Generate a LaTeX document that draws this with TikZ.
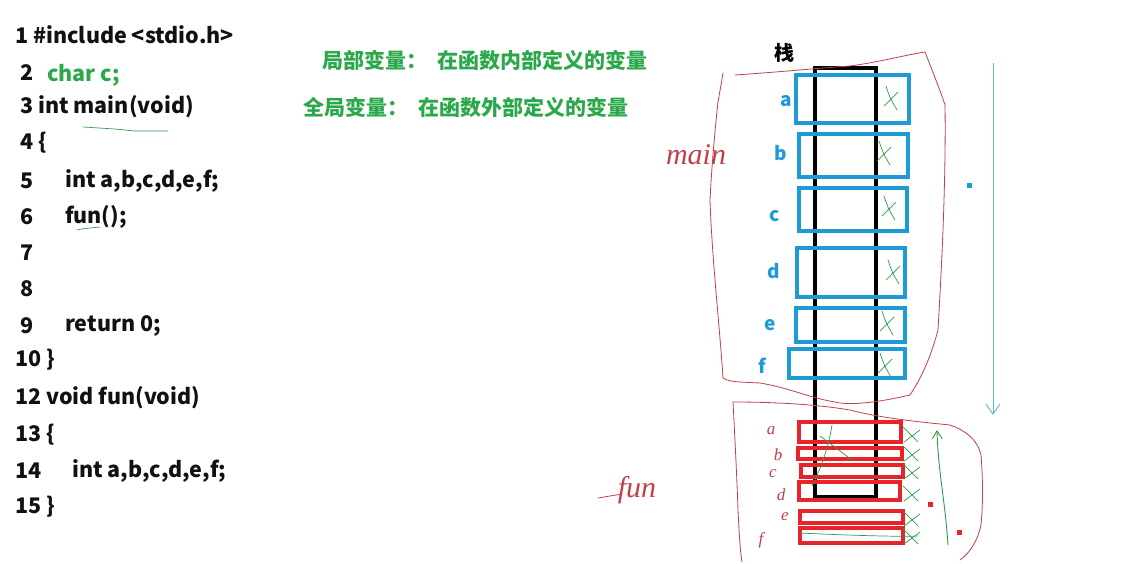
\documentclass[tikz,border=0pt]{standalone}
\usepackage{fontspec}
\setmainfont{Noto Sans CJK SC}
\newfontfamily\handfont{Liberation Serif}
\usetikzlibrary{arrows.meta}
\definecolor{codeblk}{HTML}{111111}
\definecolor{gtext}{HTML}{2BA84A}
\definecolor{sblue}{HTML}{1E9BD7}
\definecolor{sred}{HTML}{E8232A}
\definecolor{hred}{HTML}{C0404A}
\definecolor{hgreen}{HTML}{2E9E4E}
\definecolor{hblue}{HTML}{6BB7C9}
\tikzset{
  code/.style={anchor=west,inner sep=0pt,font=\fontsize{21.5}{21.5}\selectfont\bfseries,text=codeblk},
  note/.style={anchor=west,inner sep=0pt,font=\fontsize{21}{21}\selectfont\bfseries,text=gtext},
  bluebox/.style={draw=sblue,line width=3.4pt},
  redbox/.style={draw=sred,line width=3.6pt},
  lbl/.style={inner sep=0pt,font=\fontsize{19}{19}\selectfont\bfseries,text=sblue},
  hand/.style={draw=hred,line width=0.8pt,line join=round,line cap=round},
  hlbl/.style={inner sep=0pt,font=\fontsize{17}{17}\selectfont\handfont\itshape,text=hred},
  cross/.style={draw=hgreen,line width=0.7pt,line cap=round},
}
\begin{document}
\begin{tikzpicture}[x=1pt,y=-1pt]
\useasboundingbox[fill=white] (0,0) rectangle (1125,564);
% code
\node[code] (l1) at (15,35) {1 \#include <stdio.h>};
\node[code] (l2n) at (20,73) {2};
\node[code,text=gtext] (l2) at (47,75) {char c;};
\node[code] (l3) at (20,107) {3 int main(void)};
\node[code] (l4) at (20,143) {4 \{};
\node[code] (l5n) at (20,181) {5};
\node[code] (l5) at (65,181) {int a,b,c,d,e,f;};
\node[code] (l6n) at (20,217) {6};
\node[code] (l6) at (65,217) {fun();};
\node[code] (l7) at (20,253) {7};
\node[code] (l8) at (20,289) {8};
\node[code] (l9n) at (20,326) {9};
\node[code] (l9) at (65,326) {return 0;};
\node[code] (l10) at (15,360) {10 \}};
\node[code] (l12) at (15,398) {12 void fun(void)};
\node[code] (l13) at (15,435) {13 \{};
\node[code] (l14n) at (15,471) {14};
\node[code] (l14) at (72,471) {int a,b,c,d,e,f;};
\node[code] (l15) at (15,507) {15 \}};
% underlines
\draw[cross] (83,127) -- (115,129) -- (135,131) -- (168,131);
\draw[cross] (77,230) .. controls (85,228) and (92,228) .. (100,227);
% notes
\node[note] (n1) at (322,60) {局部变量：\hspace{0.5em}在函数内部定义的变量};
\node[note] (n2) at (303,107) {全局变量：\hspace{0.5em}在函数外部定义的变量};
% stack
\node[inner sep=0pt,font=\fontsize{20}{20}\selectfont\bfseries] (zhan) at (784,53) {栈};
\draw[line width=4pt,black] (815,497) -- (815,68) -- (876,68) -- (876,497) -- cycle;
% blue boxes
\draw[bluebox] (796,75) rectangle (909,123);
\draw[bluebox] (799,134) rectangle (908,177);
\draw[bluebox] (799,188) rectangle (907,231);
\draw[bluebox] (797,248) rectangle (905,297);
\draw[bluebox] (796,308) rectangle (905,342);
\draw[bluebox] (789,349) rectangle (905,378);
\node[lbl] (la) at (786,101) {a};
\node[lbl] (lb) at (781,153) {b};
\node[lbl] (lc) at (775,216) {c};
\node[lbl] (ld) at (774,271) {d};
\node[lbl] (le) at (770,325) {e};
\node[lbl] (lf) at (762,366) {f};
% red boxes
\draw[redbox] (799,422) rectangle (901,442);
\draw[redbox] (798,448) rectangle (902,459);
\draw[redbox] (801,465) rectangle (903,477);
\draw[redbox] (799,482) rectangle (900,500);
\draw[redbox] (800,511) rectangle (903,523);
\draw[redbox] (800,528) rectangle (903,543);
% handwritten letters next to red boxes
\node[hlbl] (ha) at (771,431) {a};
\node[hlbl] (hb) at (778,455) {b};
\node[hlbl] (hc) at (773,474) {c};
\node[hlbl] (hd) at (781,495) {d};
\node[hlbl] (he) at (785,517) {e};
\node[hlbl] (hf) at (761,540) {f};
% main blob
\draw[hand] (735,75) .. controls (780,72) and (820,68) .. (850,66)
  .. controls (880,62) and (905,55) .. (925,52)
  .. controls (932,70) and (940,90) .. (945,105)
  .. controls (946,180) and (942,260) .. (938,330)
  .. controls (930,360) and (920,380) .. (910,395)
  .. controls (880,402) and (850,406) .. (835,402)
  .. controls (810,398) and (790,388) .. (760,383)
  .. controls (740,382) and (728,382) .. (723,378)
  .. controls (720,330) and (712,260) .. (710,200)
  .. controls (712,160) and (716,120) .. (718,102)
  .. controls (720,90) and (722,80) .. (723,73);
% fun blob
\draw[hand] (733,402) .. controls (780,402) and (820,405) .. (850,410)
  .. controls (880,418) and (920,422) .. (950,425)
  .. controls (965,430) and (978,440) .. (981,455)
  .. controls (983,480) and (983,505) .. (981,525)
  .. controls (978,540) and (970,553) .. (960,560);
\draw[hand] (733,402) .. controls (735,440) and (737,480) .. (738,510)
  .. controls (739,530) and (740,550) .. (742,562);
% handwritten labels
\node[hlbl,font=\fontsize{30}{30}\selectfont\handfont\itshape] (hmain) at (696,155) {main};
\node[hlbl,font=\fontsize{30}{30}\selectfont\handfont\itshape] (hfun) at (637,490) {fun};
\draw[hand] (598,498) -- (622,494);
% green crosses on blue boxes
\foreach \x/\y in {890/98, 883/153, 888/208, 892/272, 886/323, 884/365}{
  \draw[cross] (\x-4,\y-12) .. controls (\x,\y) .. (\x+7,\y+12);
  \draw[cross] (\x-6,\y+8) .. controls (\x,\y+2) .. (\x+8,\y-6);
}
% green crosses / scribbles on red boxes
\foreach \y in {436, 455, 473, 495, 520, 538}{
  \draw[cross] (903,\y-9) -- (918,\y+6);
  \draw[cross] (904,\y+6) -- (920,\y-6);
}
\draw[cross] (832,425) .. controls (828,450) and (820,470) .. (812,486);
\draw[cross] (820,436) -- (852,460);
\draw[cross] (800,533) .. controls (840,535) and (900,537) .. (918,536);
% arrows
\draw[draw=hblue,line width=1pt,-{Straight Barb[length=10pt,width=14pt]}] (993,63) -- (993,415);
\fill[sblue] (967,183) rectangle (972,188);
\draw[draw=hgreen,line width=0.9pt,-{Straight Barb[length=8pt,width=10pt]}] (948,545) .. controls (945,500) and (938,470) .. (937,430);
\fill[sred] (928,502) rectangle (933,507);
\fill[sred] (957,530) rectangle (962,535);
\end{tikzpicture}
\end{document}
